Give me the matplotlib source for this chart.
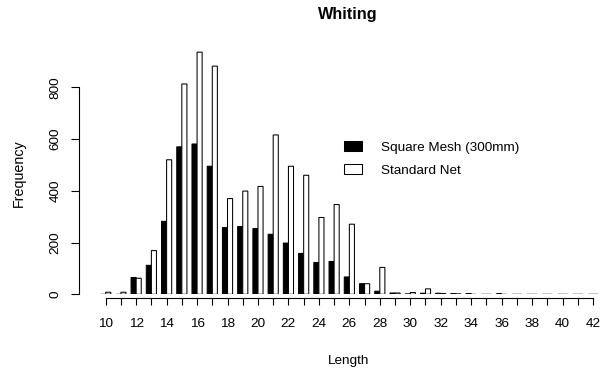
import numpy as np
import matplotlib.pyplot as plt
from matplotlib.patches import Patch

plt.rcParams.update({"font.family": ["Liberation Sans", "DejaVu Sans"],
                     "path.simplify": False})

lengths = list(range(10, 43))
square_mesh = [0, 0, 65, 112, 282, 570, 581, 495, 258, 262, 254, 232, 198,
               158, 123, 127, 67, 41, 12, 5, 1, 4, 4, 3, 3, 0, 2, 0, 0, 0,
               0, 0, 0]
standard_net = [8, 8, 62, 169, 520, 813, 936, 882, 370, 399, 417, 616, 495,
                460, 297, 347, 271, 41, 104, 5, 7, 21, 2, 1, 0, 0, 0, 0, 0,
                0, 0, 0, 0]
tick_labels = [str(v) if v % 2 == 0 else "" for v in lengths]

fs = 9.7

fig = plt.figure(figsize=(6, 3.69), dpi=100)
ax = fig.add_axes([80 / 600, 1 - 294.3 / 369, 520 / 600, 254.3 / 369])

x = np.array(lengths)
w = 1 / 3
ax.bar(x - w / 2, square_mesh, width=w, color="black", edgecolor="black",
       linewidth=0.75, snap=False)
ax.bar(x + w / 2, standard_net, width=w, color="white", edgecolor="black",
       linewidth=0.75, snap=False)

ax.set_xlim(10 - 25.7 / 15.23, 42 + 7 / 15.23)
ax.set_ylim(0, 983)

for s in ["top", "right"]:
    ax.spines[s].set_visible(False)
ax.spines["left"].set_bounds(0, 800)
ax.spines["bottom"].set_bounds(10, 42)
ax.spines["bottom"].set_position(("outward", 2.5))
ax.spines["left"].set_position(("outward", 0.5))

ax.set_xticks(lengths)
ax.set_xticklabels(tick_labels, fontsize=fs)
ax.set_yticks([0, 200, 400, 600, 800])
ax.set_yticklabels(["0", "200", "400", "600", "800"], fontsize=fs,
                   rotation=90, va="center")
ax.tick_params(axis="x", length=5.3, width=0.8, pad=9)
ax.tick_params(axis="y", length=5.8, width=0.8, pad=7)

# axis titles placed where R put them
fig.text(349 / 600, 1 - 361 / 369, "Length", fontsize=fs,
         ha="center", va="center")
fig.text(19 / 600, 1 - 173 / 369, "Frequency", fontsize=10.3,
         rotation=90, ha="center", va="center")
fig.text(348 / 600, 1 - 14 / 369, "Whiting", fontsize=11.7,
         fontweight="bold", ha="center", va="center")

handles = [Patch(facecolor="black", edgecolor="black", linewidth=0.75),
           Patch(facecolor="white", edgecolor="black", linewidth=0.75)]
fig.legend(handles, ["Square Mesh (300mm)", "Standard Net"],
           loc="upper left", bbox_to_anchor=(344 / 600, 1 - 141 / 369),
           frameon=False, fontsize=fs, handlelength=1.33, handleheight=0.74,
           handletextpad=1.4, labelspacing=0.8, borderpad=0,
           borderaxespad=0)

fig.savefig("out.png", dpi=100)
